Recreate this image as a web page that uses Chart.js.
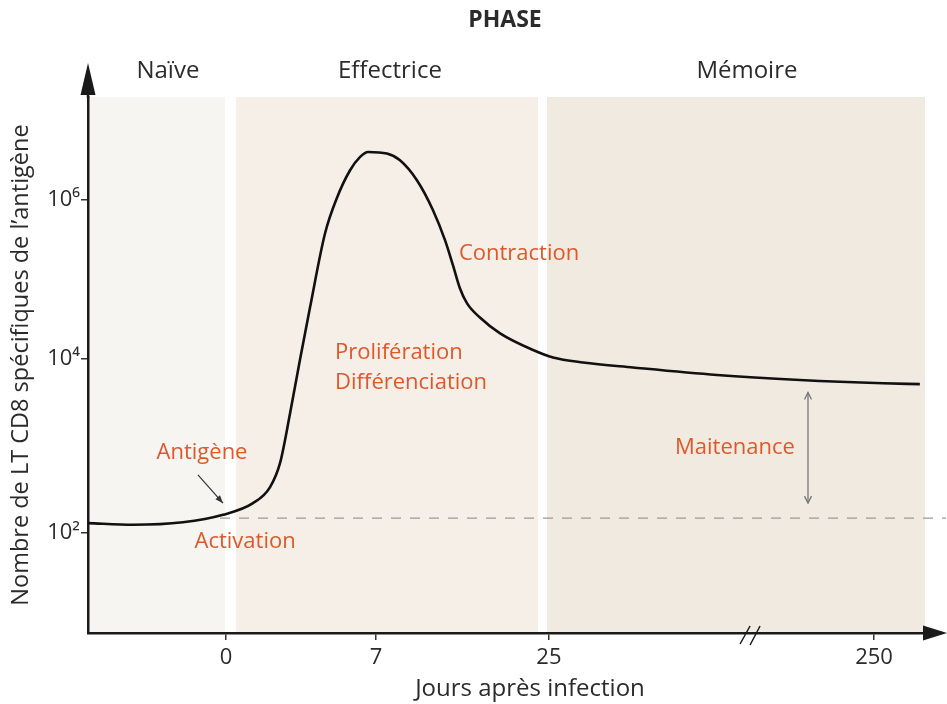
<!DOCTYPE html>
<html lang="fr">
<head>
<meta charset="utf-8">
<title>Phase</title>
<script src="https://cdn.jsdelivr.net/npm/chart.js@4.4.1/dist/chart.umd.min.js"></script>
<style>
  html, body { margin: 0; padding: 0; background: #fff; }
  #wrap { width: 947px; height: 704px; }
</style>
</head>
<body>
<div id="wrap"><canvas id="chart"></canvas></div>
<script>
// =======================
// données (x : position schématique des jours, y : position log schématique)
// =======================
const curveX = [-6.44, -4.34, -2.01, -0.14, 1.26, 2.05, 2.52, 2.99, 3.45, 3.92, 4.62, 5.18, 5.79, 6.26, 6.63, 7.51, 8.12, 8.91, 9.66, 10.22, 10.59, 10.92, 11.25, 11.85, 12.79, 14.33, 15.26, 16.66, 18.99, 22.91, 26.78, 30.66, 32.38];
const curveY = [2.12, 2.10, 2.13, 2.22, 2.36, 2.55, 2.84, 3.44, 4.08, 4.71, 5.60, 6.03, 6.36, 6.52, 6.58, 6.56, 6.48, 6.24, 5.88, 5.52, 5.22, 4.94, 4.76, 4.59, 4.40, 4.20, 4.11, 4.05, 3.99, 3.90, 3.84, 3.80, 3.79];

const xTickPos = [0, 7, 15.07, 30.24];
const xTickLabels = ['0', '7', '25', '250'];
const yTickPos = [2, 4.1, 6];
const yTickLabels = ['10²', '10⁴', '10⁶'];

const phaseNames = ['Naïve', 'Effectrice', 'Mémoire'];
const phaseStart = [-6.44, 0.47, 14.98];
const phaseEnd = [-0.05, 14.56, 32.62];
const phaseLabelX = [-2.71, 7.65, 24.31];

const activationLevel = 2.18;
const activationFrom = -0.28;
const activationTo = 33.6;
const maintenanceTop = 3.69;
const maintenanceBottom = 2.36;
const maintenanceX = 27.16;
const xBreakAt = 24.55;

const PHASE_COLORS = ['#f7f5f2', '#f5efe8', '#f1eae1'];
const ORANGE = '#e0582a';
const INK = '#2b2b2b';
const FONT = "'Open Sans', 'Noto Sans', sans-serif";

// textes orange (positions en unités des axes)
const notes = [
  { text: 'Antigène', x: -1.12, y: 2.96, align: 'center' },
  { text: 'Activation', x: 0.89, y: 1.90, align: 'center' },
  { text: 'Prolifération', x: 5.09, y: 4.17, align: 'left' },
  { text: 'Différenciation', x: 5.09, y: 3.81, align: 'left' },
  { text: 'Contraction', x: 10.87, y: 5.36, align: 'left' },
  { text: 'Maitenance', x: 23.75, y: 3.03, align: 'center' }
];

function arrowHead(ctx, tipX, tipY, angle, len, half) {
  ctx.save();
  ctx.translate(tipX, tipY);
  ctx.rotate(angle);
  ctx.beginPath();
  ctx.moveTo(0, 0);
  ctx.lineTo(-len, -half);
  ctx.lineTo(-len, half);
  ctx.closePath();
  ctx.fill();
  ctx.restore();
}

function openHead(ctx, tipX, tipY, angle, len, half) {
  ctx.save();
  ctx.translate(tipX, tipY);
  ctx.rotate(angle);
  ctx.beginPath();
  ctx.moveTo(-len, -half);
  ctx.lineTo(0, 0);
  ctx.lineTo(-len, half);
  ctx.stroke();
  ctx.restore();
}

const schemaPlugin = {
  id: 'schema',
  beforeDraw(chart) {
    const { ctx, chartArea: a, scales: { x } } = chart;
    ctx.save();
    phaseNames.forEach((n, i) => {
      const x0 = x.getPixelForValue(phaseStart[i]);
      const x1 = x.getPixelForValue(phaseEnd[i]);
      ctx.fillStyle = PHASE_COLORS[i];
      ctx.fillRect(x0, a.top, x1 - x0, a.bottom - a.top);
    });
    ctx.restore();
  },
  afterDraw(chart) {
    const { ctx, chartArea: a, scales: { x, y } } = chart;
    ctx.save();

    // flèches des axes
    ctx.strokeStyle = '#1a1a1a';
    ctx.fillStyle = '#1a1a1a';
    ctx.lineWidth = 2.5;
    ctx.beginPath();
    ctx.moveTo(a.left, a.top + 1);
    ctx.lineTo(a.left, 92);
    ctx.moveTo(a.right - 1, a.bottom);
    ctx.lineTo(925, a.bottom);
    ctx.stroke();
    arrowHead(ctx, a.left, 63, -Math.PI / 2, 32, 7.5);
    arrowHead(ctx, 947, a.bottom, 0, 24, 7.5);

    // coupure de l'axe x
    const bx = x.getPixelForValue(xBreakAt);
    ctx.lineWidth = 1.5;
    ctx.beginPath();
    ctx.moveTo(bx - 12, a.bottom + 11);
    ctx.lineTo(bx - 2, a.bottom - 7);
    ctx.moveTo(bx - 2, a.bottom + 12);
    ctx.lineTo(bx + 8, a.bottom - 7);
    ctx.stroke();

    // flèche Antigène
    ctx.strokeStyle = '#333';
    ctx.fillStyle = '#333';
    ctx.lineWidth = 1.2;
    const ax0 = x.getPixelForValue(-1.31), ay0 = y.getPixelForValue(2.70);
    const ax1 = x.getPixelForValue(-0.14), ay1 = y.getPixelForValue(2.36);
    ctx.beginPath();
    ctx.moveTo(ax0, ay0);
    ctx.lineTo(ax1, ay1);
    ctx.stroke();
    arrowHead(ctx, ax1, ay1, Math.atan2(ay1 - ay0, ax1 - ax0), 8, 3);

    // double flèche maintenance
    const mx = x.getPixelForValue(maintenanceX);
    const my0 = y.getPixelForValue(maintenanceTop);
    const my1 = y.getPixelForValue(maintenanceBottom);
    ctx.strokeStyle = '#777';
    ctx.lineWidth = 1.3;
    ctx.beginPath();
    ctx.moveTo(mx, my0);
    ctx.lineTo(mx, my1);
    ctx.stroke();
    openHead(ctx, mx, my0, -Math.PI / 2, 7, 3.5);
    openHead(ctx, mx, my1, Math.PI / 2, 7, 3.5);

    // titres
    ctx.fillStyle = INK;
    ctx.textAlign = 'center';
    ctx.textBaseline = 'middle';
    ctx.font = 'bold 23px ' + FONT;
    ctx.fillText('PHASE', 505, 20);
    ctx.font = '24px ' + FONT;
    phaseNames.forEach((n, i) => {
      ctx.fillText(n, x.getPixelForValue(phaseLabelX[i]), 71);
    });
    ctx.font = '24px ' + FONT;
    ctx.fillText('Jours après infection', 530, 689);

    // annotations
    ctx.fillStyle = ORANGE;
    ctx.font = '22px ' + FONT;
    notes.forEach(n => {
      ctx.textAlign = n.align;
      ctx.fillText(n.text, x.getPixelForValue(n.x), y.getPixelForValue(n.y));
    });
    ctx.restore();
  }
};

new Chart(document.getElementById('chart'), {
  type: 'line',
  data: {
    datasets: [
      {
        label: 'Activation',
        data: [{ x: activationFrom, y: activationLevel }, { x: activationTo, y: activationLevel }],
        borderColor: '#9a9a9a',
        borderWidth: 1.4,
        borderDash: [10, 9],
        pointRadius: 0,
        clip: false
      },
      {
        label: 'LT CD8',
        data: curveX.map((v, i) => ({ x: v, y: curveY[i] })),
        borderColor: '#111',
        borderWidth: 2.6,
        pointRadius: 0,
        cubicInterpolationMode: 'monotone'
      }
    ]
  },
  options: {
    responsive: true,
    maintainAspectRatio: false,
    animation: false,
    layout: { padding: { left: 0, right: 22, top: 97, bottom: 0 } },
    plugins: { legend: { display: false }, tooltip: { enabled: false } },
    scales: {
      x: {
        type: 'linear',
        min: -6.44,
        max: 32.62,
        afterBuildTicks: s => { s.ticks = xTickPos.map(v => ({ value: v })); },
        afterFit: s => { s.height = 71; },
        ticks: {
          autoSkip: false,
          maxRotation: 0,
          padding: 5,
          color: INK,
          font: { family: FONT, size: 22 },
          callback: (v, i) => xTickLabels[i]
        },
        grid: { drawOnChartArea: false, drawTicks: true, tickLength: 7, color: '#333', lineWidth: 1.5 },
        border: { display: true, color: '#1a1a1a', width: 2.5 }
      },
      y: {
        type: 'linear',
        min: 0.80,
        max: 7.24,
        afterBuildTicks: s => { s.ticks = yTickPos.map(v => ({ value: v })); },
        afterFit: s => { s.width = 88; },
        ticks: {
          autoSkip: false,
          padding: 1,
          color: INK,
          font: { family: FONT, size: 22 },
          callback: (v, i) => yTickLabels[i]
        },
        grid: { drawOnChartArea: false, drawTicks: true, tickLength: 7, color: '#333', lineWidth: 1.5 },
        border: { display: true, color: '#1a1a1a', width: 2.5 },
        title: {
          display: true,
          text: 'Nombre de LT CD8 spécifiques de l’antigène',
          color: INK,
          font: { family: FONT, size: 23.5 },
          padding: { top: 7, bottom: 0 }
        }
      }
    }
  },
  plugins: [schemaPlugin]
});
</script>
</body>
</html>
